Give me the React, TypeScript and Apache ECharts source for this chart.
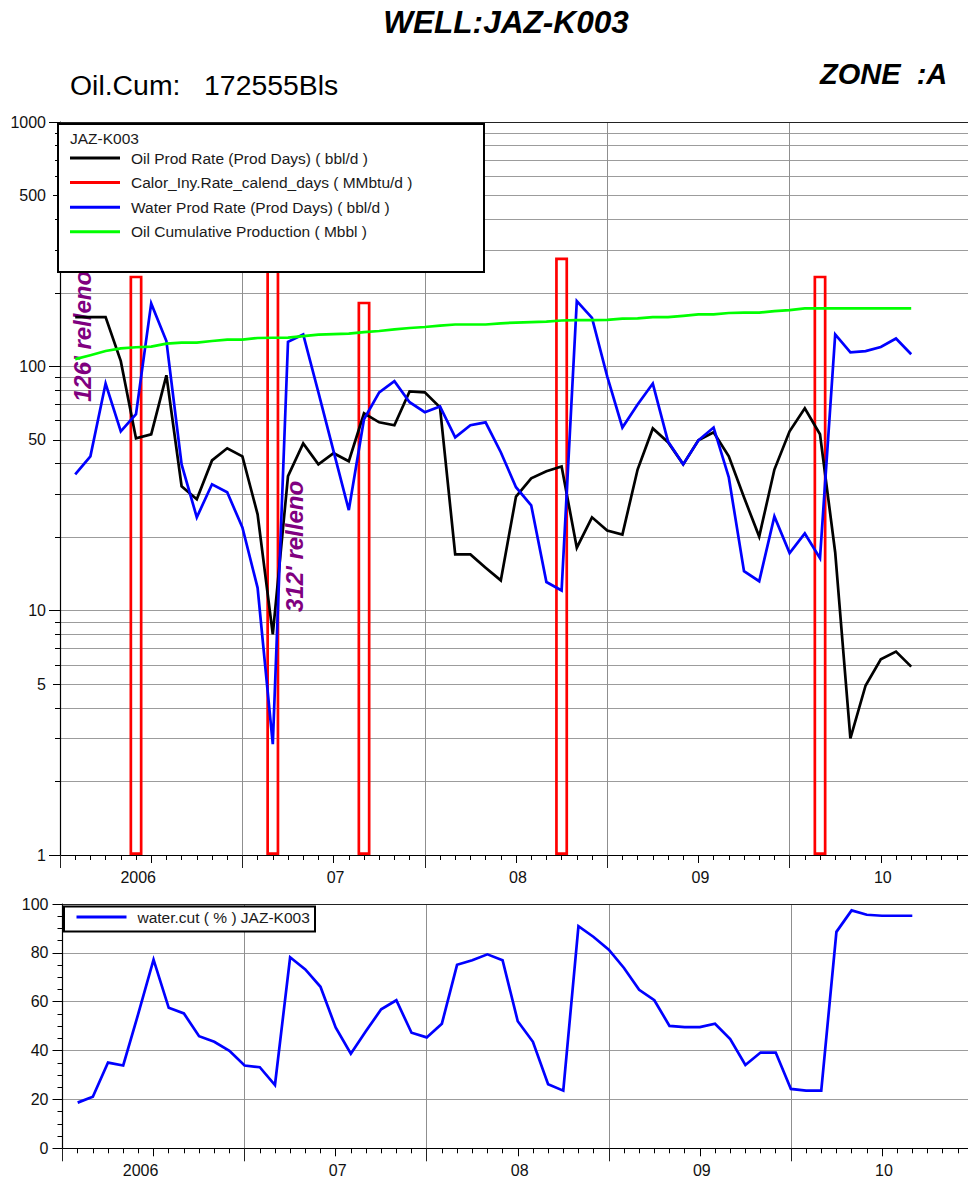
import React, { useEffect, useRef } from "react";
import * as echarts from "echarts";

const FONT = '"Liberation Sans", Arial, sans-serif';

// Months counted from Jul 2005 (0); data runs Aug 2005 .. Mar 2010
const months = [
  1, 2, 3, 4, 5, 6, 7, 8, 9, 10, 11, 12, 13, 14, 15, 16, 17, 18, 19, 20, 21, 22, 23, 24, 25, 26, 27, 28,
  29, 30, 31, 32, 33, 34, 35, 36, 37, 38, 39, 40, 41, 42, 43, 44, 45, 46, 47, 48, 49, 50, 51, 52, 53, 54, 55, 56,
];
const yearLabels: Record<number, string> = { 6: "2006", 18: "07", 30: "08", 42: "09", 54: "10" };

const oilRate = [
  159, 159, 159, 105, 50.7, 52.7, 91.9, 32.3, 28.6, 41.2, 46.2, 42.8, 24.8, 8.0, 35.5, 48.4, 39.7, 44.1, 40.9, 64.2,
  59, 57.4, 79, 78.3, 68, 17, 17, 15, 13.3, 29.3, 34.8, 37.2, 38.9, 18.1, 24.1, 21.3, 20.5, 37.8, 55.7, 48.9,
  39.7, 49.8, 53.7, 42.8, 29.1, 20.1, 37.8, 54.2, 67.3, 52.7, 17.3, 3.0, 4.94, 6.32, 6.8, 5.9,
];
const waterRate = [
  36.1, 42.8, 85, 54.2, 63.7, 181, 127, 39.7, 24.1, 32.9, 30.5, 21.9, 12.4, 2.84, 126, 135, 78.3, 44.9, 25.8, 60.7,
  78.3, 87, 71.3, 64.9, 68.5, 51.2, 57.4, 59, 44.5, 32, 27, 13.1, 12.1, 185, 158, 91, 56.2, 69.8, 85, 49.3,
  39.7, 49.8, 56.2, 35.1, 14.5, 13.2, 24.3, 17.2, 20.7, 16.4, 135, 114, 115.5, 120, 130, 112,
];
const oilCum = [
  107, 111, 115.5, 118.5, 119.7, 120.4, 123.9, 125, 125, 127, 128.6, 128.6, 130.6, 130.9, 131, 133, 134.9, 135.5, 136, 138,
  139.5, 141.6, 143.5, 144.9, 146.8, 148.3, 148.3, 148.3, 150, 151, 151.8, 152.5, 154, 154.5, 154.5, 155, 156.7, 157, 159, 159,
  161, 163.3, 163.3, 165.3, 165.8, 165.8, 168.2, 169.8, 172.6, 172.6, 172.6, 172.6, 172.6, 172.6, 172.6, 172.6,
];
const waterCut = [
  18.7, 21.1, 35.1, 33.9, 55.2, 77.2, 57.5, 55.2, 45.9, 43.6, 39.9, 33.9, 33.2, 25.9, 78.2, 73.2, 66.1, 49.5, 38.7, 48,
  56.9, 60.6, 47.3, 45.4, 51, 75.1, 77, 79.4, 77, 52, 43.6, 26.2, 23.6, 90.9, 86.5, 81.3, 73.8, 64.9, 60.6, 50.1,
  49.6, 49.6, 51, 44.7, 34.1, 39.2, 39.2, 24.3, 23.6, 23.6, 88.6, 97.4, 95.6, 95.2, 95.2, 95.2,
];
const heatMonths = [5, 14, 20, 33, 50];
const heatRate = [235, 300, 184, 279, 235];

const logGridValues = [
  1, 2, 3, 4, 5, 6, 7, 8, 9, 10, 20, 30, 40, 50, 60, 70, 80, 90, 100, 200, 300, 400, 500, 600, 700, 800, 900, 1000,
];
const logMidTicks = [5, 50, 500];
const logMainTicks = [1, 10, 100, 1000];
const logLabels = [1, 5, 10, 50, 100, 500, 1000];

const OIL = "Oil Prod Rate (Prod Days) ( bbl/d )";
const HEAT = "Calor_Iny.Rate_calend_days ( MMbtu/d )";
const WATER = "Water Prod Rate (Prod Days) ( bbl/d )";
const CUM = "Oil Cumulative Production ( Mbbl )";
const CUT = "water.cut ( % ) JAZ-K003";

const zip = (xs: number[], ys: number[]) => xs.map((x, i) => [x, ys[i]]);

const TICK = "#000";
const VGRID = "#8f8f8f";
const HGRID = "#9c9c9c";

function xAxes(gridIndex: number) {
  const base = {
    type: "value" as const,
    gridIndex,
    min: 0,
    max: 60,
    position: "bottom" as const,
    splitLine: { show: false },
    axisLabel: { show: false },
    axisLine: { show: false, onZero: false },
  };
  return [
    { ...base, interval: 1, axisTick: { length: 5, lineStyle: { color: TICK, width: 1 } } },
    {
      ...base,
      interval: 6,
      axisTick: { length: 8, lineStyle: { color: TICK, width: 1 } },
      axisLabel: {
        show: true,
        margin: 14,
        fontFamily: FONT,
        fontSize: 16,
        color: "#111",
        hideOverlap: false,
        formatter: (v: number) =>
          yearLabels[v] ? (v === 6 ? `{first|${yearLabels[v]}}` : `{next|${yearLabels[v]}}`) : "",
        rich: {
          first: { fontFamily: FONT, fontSize: 16, color: "#111", padding: [0, 26, 0, 0] },
          next: { fontFamily: FONT, fontSize: 16, color: "#111", padding: [0, 0, 0, 4] },
        },
      },
    },
    {
      ...base,
      interval: 12,
      axisLine: { show: true, onZero: false, lineStyle: { color: "#000", width: 1.2 } },
      axisTick: { length: 13, lineStyle: { color: "#222", width: 1 } },
      splitLine: { show: true, lineStyle: { color: VGRID, width: 1 } },
    },
    {
      ...base,
      position: "top" as const,
      axisTick: { show: false },
      axisLine: { show: true, onZero: false, lineStyle: { color: "#222", width: 1.2 } },
    },
  ];
}

const lineSeries = (name: string, color: string, data: number[][], xAxisIndex = 0, yAxisIndex = 0) => ({
  type: "line" as const,
  name,
  data,
  xAxisIndex,
  yAxisIndex,
  showSymbol: false,
  symbol: "none",
  clip: false,
  itemStyle: { color },
  lineStyle: { color, width: 2.7, join: "miter" as const },
});

const legendText = { fontFamily: FONT, fontSize: 15.5, color: "#1a1a1a", padding: [0, 0, 0, 6] };

const option = {
  animation: false,
  backgroundColor: "#fff",
  title: {
    text: "WELL:JAZ-K003",
    left: 506,
    top: 6,
    textAlign: "center",
    padding: 0,
    textStyle: { fontFamily: FONT, fontSize: 31.6, fontWeight: "bold", fontStyle: "italic", color: "#000" },
  },
  legend: [
    {
      left: 70,
      top: 150,
      orient: "vertical",
      padding: 0,
      icon: "rect",
      itemWidth: 50,
      itemHeight: 3,
      itemGap: 8.6,
      z: 6,
      selectedMode: false,
      textStyle: legendText,
      data: [
        { name: OIL, itemStyle: { color: "#000" } },
        { name: HEAT, itemStyle: { color: "#f00", borderWidth: 0 } },
        { name: WATER, itemStyle: { color: "#00f" } },
        { name: CUM, itemStyle: { color: "#0f0" } },
      ],
    },
    {
      left: 76.5,
      top: 909,
      orient: "vertical",
      padding: 0,
      icon: "rect",
      itemWidth: 50,
      itemHeight: 3,
      z: 6,
      selectedMode: false,
      textStyle: legendText,
      data: [{ name: CUT, itemStyle: { color: "#00f" } }],
    },
  ],
  grid: [
    { left: 60, top: 122, width: 912, height: 733, containLabel: false },
    { left: 62.5, top: 904, width: 912, height: 244.3, containLabel: false },
  ],
  xAxis: [...xAxes(0), ...xAxes(1)],
  yAxis: [
    {
      type: "log",
      logBase: 10,
      gridIndex: 0,
      min: 1,
      max: 1000,
      axisLine: { show: true, onZero: false, lineStyle: { color: "#000", width: 1.2 } },
      axisTick: { length: 5, customValues: logGridValues, lineStyle: { color: TICK, width: 1 } },
      axisLabel: { show: false },
      minorTick: { show: false },
      splitLine: { show: true, lineStyle: { color: HGRID, width: 1 } },
    },
    {
      type: "log",
      logBase: 10,
      gridIndex: 0,
      min: 1,
      max: 1000,
      position: "left",
      axisLine: { show: false },
      axisTick: { length: 7, customValues: logMidTicks, lineStyle: { color: TICK, width: 1 } },
      axisLabel: { show: false },
      splitLine: { show: false },
    },
    {
      type: "log",
      logBase: 10,
      gridIndex: 0,
      min: 1,
      max: 1000,
      position: "left",
      axisLine: { show: false },
      axisTick: { length: 11, customValues: logMainTicks, lineStyle: { color: TICK, width: 1 } },
      axisLabel: {
        customValues: logLabels,
        margin: 14,
        fontFamily: FONT,
        fontSize: 16,
        color: "#111",
        hideOverlap: false,
        formatter: (v: number) => String(v),
      },
      splitLine: { show: false },
    },
    {
      type: "value",
      gridIndex: 1,
      min: 0,
      max: 100,
      interval: 20,
      axisLine: { show: true, onZero: false, lineStyle: { color: "#000", width: 1.2 } },
      axisTick: { show: true, length: 10, lineStyle: { color: TICK, width: 1 } },
      minorTick: { show: true, splitNumber: 4, length: 5, lineStyle: { color: TICK, width: 1 } },
      axisLabel: { margin: 14, fontFamily: FONT, fontSize: 16, color: "#111" },
      splitLine: { show: true, lineStyle: { color: HGRID, width: 1 } },
    },
  ],
  series: [
    lineSeries(OIL, "#000", zip(months, oilRate)),
    {
      type: "bar" as const,
      name: HEAT,
      data: zip(heatMonths, heatRate),
      xAxisIndex: 0,
      yAxisIndex: 0,
      barWidth: 13,
      itemStyle: { color: "rgba(0,0,0,0)", borderColor: "#f00", borderWidth: 2.7 },
    },
    lineSeries(WATER, "#00f", zip(months, waterRate)),
    lineSeries(CUM, "#0f0", zip(months, oilCum)),
    lineSeries(CUT, "#00f", zip(months, waterCut), 4, 3),
  ],
  graphic: [
    {
      type: "text",
      x: 70,
      y: 85,
      z: 10,
      style: {
        text: "Oil.Cum:   172555Bls",
        fontFamily: FONT,
        fontSize: 28.4,
        fill: "#000",
        textVerticalAlign: "middle",
      },
    },
    {
      type: "text",
      x: 820,
      y: 74,
      z: 10,
      style: {
        text: "ZONE  :A",
        fontFamily: FONT,
        fontSize: 29,
        fontWeight: "bold",
        fontStyle: "italic",
        fill: "#000",
        textVerticalAlign: "middle",
      },
    },
    {
      type: "text",
      x: 82,
      y: 402,
      z: 3,
      rotation: Math.PI / 2,
      style: {
        text: "126' relleno",
        fontFamily: FONT,
        fontSize: 24,
        fontWeight: "bold",
        fontStyle: "italic",
        fill: "#800080",
        textAlign: "left",
        textVerticalAlign: "middle",
      },
    },
    {
      type: "text",
      x: 294,
      y: 612,
      z: 3,
      rotation: Math.PI / 2,
      style: {
        text: "312' relleno",
        fontFamily: FONT,
        fontSize: 24,
        fontWeight: "bold",
        fontStyle: "italic",
        fill: "#800080",
        textAlign: "left",
        textVerticalAlign: "middle",
      },
    },
    {
      type: "rect",
      z: 5,
      shape: { x: 58, y: 124, width: 426, height: 148 },
      style: { fill: "#fff", stroke: "#000", lineWidth: 2 },
    },
    {
      type: "text",
      x: 70,
      y: 138,
      z: 7,
      style: {
        text: "JAZ-K003",
        fontFamily: FONT,
        fontSize: 15.5,
        fill: "#1a1a1a",
        textVerticalAlign: "middle",
      },
    },
    {
      type: "rect",
      z: 5,
      shape: { x: 64, y: 906.5, width: 251, height: 25 },
      style: { fill: "#fff", stroke: "#000", lineWidth: 2 },
    },
  ],
};

export default function App() {
  const ref = useRef<HTMLDivElement>(null);
  useEffect(() => {
    document.body.style.margin = "0";
    document.body.style.overflow = "hidden";
    const chart = echarts.init(ref.current!, undefined, { renderer: "svg" });
    chart.setOption(option as any);
    return () => chart.dispose();
  }, []);
  return <div ref={ref} style={{ position: "absolute", left: 0, top: 0, width: 976, height: 1182 }} />;
}
